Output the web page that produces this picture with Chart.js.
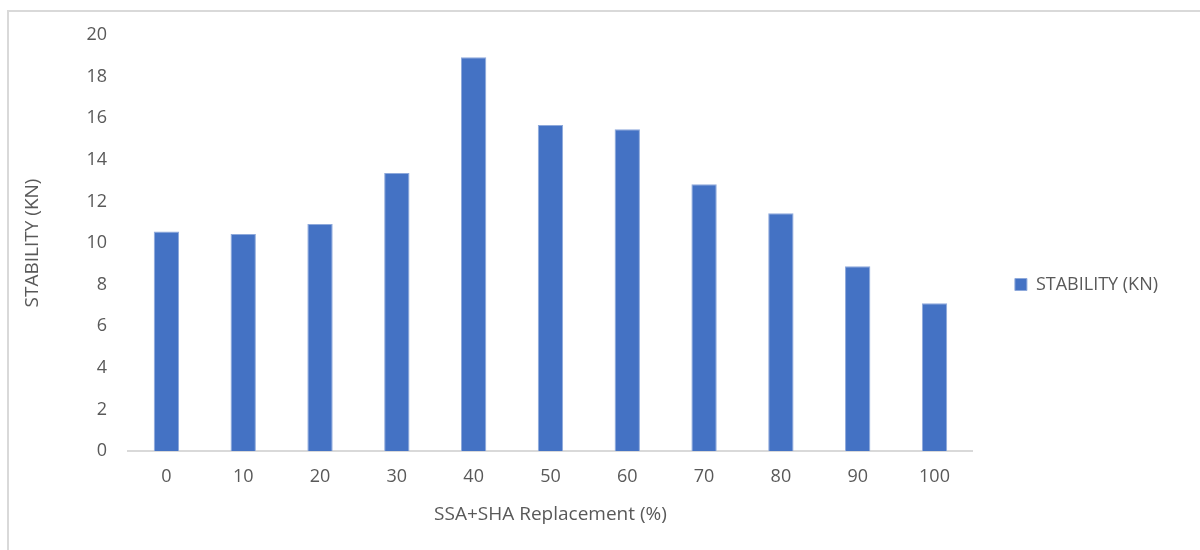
<!DOCTYPE html>
<html>
<head>
<meta charset="utf-8">
<script src="https://cdn.jsdelivr.net/npm/chart.js@4/dist/chart.umd.min.js"></script>
<style>
  html, body { margin: 0; padding: 0; background: #fff; }
  #wrap { position: relative; width: 1200px; height: 550px; overflow: hidden; }
  #frame { position: absolute; left: 7px; top: 10px; width: 1210px; height: 560px;
           border: 2px solid #d9d9d9; box-sizing: border-box; }
  #c { position: absolute; left: 0; top: 0; }
</style>
</head>
<body>
<div id="wrap">
  <div id="frame"></div>
  <canvas id="c" width="1200" height="550"></canvas>
</div>
<script>
// Replacement levels (%) and measured Marshall stability (kN)
const replacement = ['0', '10', '20', '30', '40', '50', '60', '70', '80', '90', '100'];
const stability = [10.55, 10.43, 10.91, 13.37, 18.93, 15.67, 15.47, 12.83, 11.43, 8.88, 7.1];
const seriesName = 'STABILITY (KN)';
const xTitle = 'SSA+SHA Replacement (%)';
const yTitle = 'STABILITY (KN)';

const FONT = "'Open Sans', 'DejaVu Sans', sans-serif";
const GREY = '#595959';

new Chart(document.getElementById('c'), {
  type: 'bar',
  data: {
    labels: replacement,
    datasets: [{
      label: seriesName,
      data: stability,
      backgroundColor: '#4472C4',
      borderColor: '#8EA9DB',
      borderWidth: 1,
      categoryPercentage: 1,
      barPercentage: 0.33
    }]
  },
  options: {
    responsive: false,
    animation: false,
    layout: { padding: { top: 35, right: 32, bottom: 16, left: 0 } },
    plugins: {
      tooltip: { enabled: false },
      legend: {
        position: 'right',
        labels: {
          boxWidth: 12,
          boxHeight: 12,
          padding: 42,
          color: GREY,
          font: { family: FONT, size: 18 }
        }
      }
    },
    scales: {
      x: {
        grid: { display: false, drawTicks: false },
        border: { display: true, color: '#d9d9d9', width: 2 },
        ticks: { color: GREY, font: { family: FONT, size: 18 }, padding: 15, maxRotation: 0 },
        title: { display: true, text: xTitle, color: GREY, font: { family: FONT, size: 19 },
                 padding: { top: 0, bottom: 8 } },
        afterFit: (s) => { s.height = 83; }
      },
      y: {
        min: 0, max: 20,
        grid: { display: false, drawTicks: false },
        border: { display: false },
        ticks: { stepSize: 2, color: GREY, font: { family: FONT, size: 18 }, padding: 21 },
        title: { display: true, text: yTitle, color: GREY, font: { family: FONT, size: 19 },
                 padding: { top: 21, bottom: 0 } },
        afterFit: (s) => { s.width = 128; }
      }
    }
  }
});
</script>
</body>
</html>
